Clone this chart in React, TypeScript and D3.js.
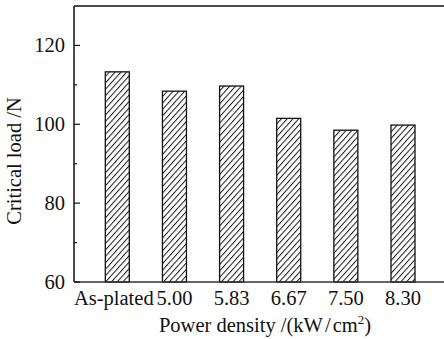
import { useEffect, useRef } from "react";
import * as d3 from "d3";

const categories = ["As-plated", "5.00", "5.83", "6.67", "7.50", "8.30"];
const criticalLoad = [113.3, 108.4, 109.7, 101.5, 98.5, 99.8];
const majorTicks = [60, 80, 100, 120];
const minorTicks = [70, 90, 110];

const W = 444;
const H = 339;
const FONT = "'Liberation Serif', 'Times New Roman', serif";
const FS = "20.5px";

function draw(svgEl: SVGSVGElement) {
  const svg = d3.select(svgEl);
  svg.selectAll("*").remove();

  const left = 74, top = 6, bottom = 282;

  // index positions; axis sits a bit left of the first bar
  const x = d3.scaleLinear().domain([0, 5]).range([117.3, 403]);
  const y = d3.scaleLinear().domain([60, 130]).range([bottom, top]);
  const barW = 24;

  const defs = svg.append("defs");
  const pat = defs.append("pattern")
    .attr("id", "hatch")
    .attr("patternUnits", "userSpaceOnUse")
    .attr("width", 4.3).attr("height", 4.3)
    .attr("patternTransform", "rotate(42)");
  pat.append("rect").attr("width", 4.3).attr("height", 4.3).attr("fill", "#fff");
  pat.append("line")
    .attr("x1", 0.5).attr("y1", 0).attr("x2", 0.5).attr("y2", 4.3)
    .attr("stroke", "#1a1a1a").attr("stroke-width", 1);

  const g = svg.append("g");

  // bars
  g.selectAll("rect.bar")
    .data(criticalLoad)
    .enter()
    .append("rect")
    .attr("class", "bar")
    .attr("x", (_, i) => x(i) - barW / 2)
    .attr("y", d => y(d))
    .attr("width", barW)
    .attr("height", d => y(60) - y(d))
    .attr("fill", "url(#hatch)")
    .attr("stroke", "#111")
    .attr("stroke-width", 1.3);

  // frame: left, bottom, top
  g.append("line").attr("x1", left).attr("x2", left).attr("y1", top).attr("y2", bottom)
    .attr("stroke", "#111").attr("stroke-width", 1.5);
  g.append("line").attr("x1", left).attr("x2", W).attr("y1", bottom).attr("y2", bottom)
    .attr("stroke", "#333").attr("stroke-width", 1.5);
  g.append("line").attr("x1", left).attr("x2", W).attr("y1", top).attr("y2", top)
    .attr("stroke", "#111").attr("stroke-width", 1.5);

  // y ticks (inward)
  majorTicks.forEach(t => {
    g.append("line").attr("x1", left).attr("x2", left + 6).attr("y1", y(t)).attr("y2", y(t))
      .attr("stroke", "#111").attr("stroke-width", 1.2);
    g.append("text")
      .attr("x", left - 9).attr("y", y(t)).attr("dy", "0.33em")
      .attr("text-anchor", "end")
      .style("font-family", FONT).style("font-size", FS).attr("fill", "#111")
      .text(t);
  });
  minorTicks.forEach(t => {
    g.append("line").attr("x1", left).attr("x2", left + 3).attr("y1", y(t)).attr("y2", y(t))
      .attr("stroke", "#111").attr("stroke-width", 1.2);
  });

  // x labels
  categories.forEach((c, i) => {
    g.append("text")
      .attr("x", x(i) - (i === 0 ? 3.5 : 0)).attr("y", 305)
      .attr("text-anchor", "middle")
      .style("font-family", FONT).style("font-size", FS).attr("fill", "#111")
      .text(c);
  });

  // axis titles
  const xt = g.append("text")
    .attr("x", 265).attr("y", 332)
    .attr("text-anchor", "middle")
    .style("font-family", FONT).style("font-size", FS).attr("fill", "#111");
  xt.append("tspan").text("Power density /(kW");
  xt.append("tspan").attr("dx", 2).text("/");
  xt.append("tspan").attr("dx", 2).text("cm");
  xt.append("tspan").attr("dy", -8).style("font-size", "13px").text("2");
  xt.append("tspan").attr("dy", 8).text(")");

  g.append("text")
    .attr("transform", `translate(21,161) rotate(-90)`)
    .attr("text-anchor", "middle")
    .style("font-family", FONT).style("font-size", FS).attr("fill", "#111")
    .text("Critical load /N");
}

export default function App() {
  const ref = useRef<SVGSVGElement>(null);
  useEffect(() => {
    if (ref.current) draw(ref.current);
  }, []);
  return (
    <svg ref={ref} width={W} height={H}
      style={{ position: "absolute", left: 0, top: 0, display: "block", background: "#fff" }} />
  );
}
